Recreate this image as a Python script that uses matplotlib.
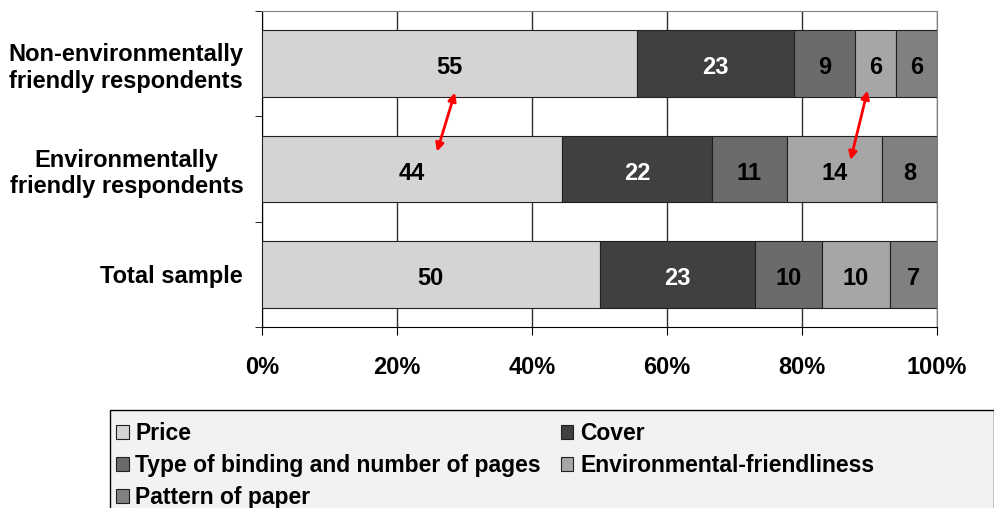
import matplotlib
matplotlib.use("Agg")
import matplotlib.pyplot as plt
import numpy as np
from matplotlib.patches import Patch, Rectangle

plt.rcParams['font.family'] = ['Liberation Sans', 'DejaVu Sans']

categories = ["Total sample", "Environmentally\nfriendly respondents", "Non-environmentally\nfriendly respondents"]
series_names = ["Price", "Cover", "Type of binding and number of pages", "Environmental-friendliness", "Pattern of paper"]
price = [50, 44, 55]
cover = [23, 22, 23]
binding = [10, 11, 9]
envfriendly = [10, 14, 6]
pattern = [7, 8, 6]
x_ticklabels = ["0%", "20%", "40%", "60%", "80%", "100%"]

colors = ["#d4d4d4", "#404040", "#6b6b6b", "#a6a6a6", "#808080"]
text_colors = ["black", "white", "black", "black", "black"]

data = np.array([price, cover, binding, envfriendly, pattern], dtype=float)
totals = data.sum(axis=0)
pct = data / totals * 100

fig = plt.figure(figsize=(9.95, 5.08), dpi=100)
ax = fig.add_axes([262/995, 1-327/508, (937-262)/995, (327-11)/508])

y = np.arange(len(categories))
left = np.zeros(len(categories))
for i in range(len(series_names)):
    ax.barh(y, pct[i], left=left, height=0.63, color=colors[i], edgecolor="#202020",
            linewidth=0.8, zorder=3)
    for j in range(len(categories)):
        ax.text(left[j] + pct[i][j] / 2, y[j] - 0.04, f"{int(data[i][j])}", ha="center", va="center",
                fontsize=17, fontweight="bold", color=text_colors[i], zorder=4)
    left += pct[i]

ax.set_xlim(0, 100)
ax.set_ylim(-0.5, 2.5)
ax.set_xticks(np.arange(0, 101, 20))
ax.set_xticklabels(x_ticklabels, fontsize=17, fontweight="bold")
ax.tick_params(axis="x", length=6, pad=15, direction="out", color="black")
ax.set_yticks(y)
ax.set_yticklabels(categories, fontsize=17, fontweight="bold", ha="right", multialignment="center")
ax.tick_params(axis="y", which="major", length=0, pad=13.5)
ax.set_yticks([-0.5, 0.5, 1.5, 2.5], minor=True)
ax.tick_params(axis="y", which="minor", length=5, direction="out")
ax.grid(axis="x", color="#303030", linewidth=1, zorder=0)
for s in ["top", "right"]:
    ax.spines[s].set_color("#808080")
ax.spines["left"].set_color("black")
ax.spines["bottom"].set_color("black")

# arrows
ax.annotate("", xy=(28.7, 1.75), xytext=(25.8, 1.14),
            arrowprops=dict(arrowstyle="<|-|>", color="red", lw=2, mutation_scale=12), zorder=5)
ax.annotate("", xy=(89.8, 1.77), xytext=(87.1, 1.06),
            arrowprops=dict(arrowstyle="<|-|>", color="red", lw=2, mutation_scale=12), zorder=5)

# legend box
fig.patches.append(Rectangle((110/995, -0.05), (994-110)/995, 0.05 + 98/508,
                             transform=fig.transFigure, facecolor="#f2f2f2",
                             edgecolor="black", linewidth=1, zorder=0))
order = [0, 2, 4, 1, 3]
handles = [Patch(facecolor=colors[k], edgecolor="#202020", linewidth=0.8) for k in order]
labels = [series_names[k] for k in order]
leg = fig.legend(handles, labels, ncol=2, loc="upper left",
                 bbox_to_anchor=(116/995, 1-422/508),
                 prop={"weight": "bold", "size": 16.5}, frameon=False,
                 handlelength=0.55, handleheight=0.55, handletextpad=0.3, labelspacing=0.39,
                 borderpad=0, columnspacing=0.85, borderaxespad=0)

fig.savefig("out.png", dpi=100)
